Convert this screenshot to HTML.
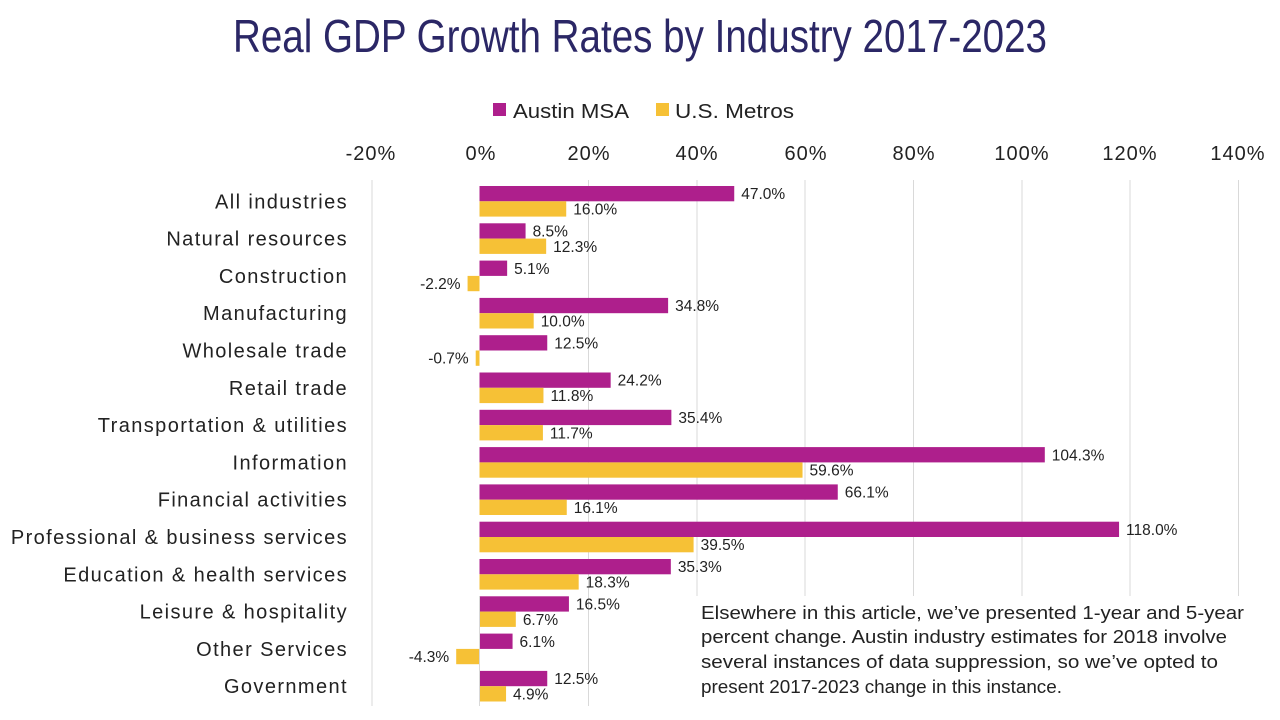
<!DOCTYPE html>
<html><head><meta charset="utf-8"><style>
html,body{margin:0;padding:0;background:#fff;}
svg{display:block;font-family:"Liberation Sans",sans-serif;}
</style></head><body>
<svg width="1280" height="720" viewBox="0 0 1280 720" xmlns="http://www.w3.org/2000/svg">
<text x="640" y="52" text-anchor="middle" font-size="46" fill="#2B2766" textLength="814" lengthAdjust="spacingAndGlyphs">Real GDP Growth Rates by Industry 2017-2023</text>
<rect x="493" y="103" width="13" height="13" fill="#AE1F8C"/>
<text x="513" y="118" font-size="20" fill="#222" textLength="116" lengthAdjust="spacingAndGlyphs">Austin MSA</text>
<rect x="656" y="103" width="13" height="13" fill="#F6C136"/>
<text x="675" y="118" font-size="20" fill="#222" textLength="119" lengthAdjust="spacingAndGlyphs">U.S. Metros</text>
<g font-size="20" fill="#222" text-anchor="middle" letter-spacing="1">
<text x="371" y="160">-20%</text><text x="481" y="160">0%</text><text x="589" y="160">20%</text><text x="697" y="160">40%</text><text x="806" y="160">60%</text><text x="914" y="160">80%</text><text x="1022" y="160">100%</text><text x="1130" y="160">120%</text><text x="1238" y="160">140%</text>
</g>
<g stroke="#d9d9d9" stroke-width="1">
<line x1="372" y1="180" x2="372" y2="706"/><line x1="588.5" y1="180" x2="588.5" y2="706"/><line x1="697" y1="180" x2="697" y2="706"/><line x1="805" y1="180" x2="805" y2="706"/><line x1="913.5" y1="180" x2="913.5" y2="706"/><line x1="1022" y1="180" x2="1022" y2="706"/><line x1="1130" y1="180" x2="1130" y2="706"/><line x1="1238.5" y1="180" x2="1238.5" y2="706"/>
</g>
<g id="bars"></g>
<g font-size="20" fill="#222" text-anchor="end" letter-spacing="1.4" id="cats"></g>
<rect x="692" y="596" width="560" height="110" fill="#fff"/>
<line x1="479.5" y1="596" x2="479.5" y2="706" stroke="#d9d9d9"/>
<g font-size="18" fill="#222">
<text x="701" y="619" textLength="543" lengthAdjust="spacingAndGlyphs">Elsewhere in this article, we’ve presented 1-year and 5-year</text>
<text x="701" y="643" textLength="526" lengthAdjust="spacingAndGlyphs">percent change. Austin industry estimates for 2018 involve</text>
<text x="701" y="668" textLength="517" lengthAdjust="spacingAndGlyphs">several instances of data suppression, so we’ve opted to</text>
<text x="701" y="693" textLength="361" lengthAdjust="spacingAndGlyphs">present 2017-2023 change in this instance.</text>
</g>
<script>
var d=[["All industries",47.0,16.0],["Natural resources",8.5,12.3],["Construction",5.1,-2.2],["Manufacturing",34.8,10.0],["Wholesale trade",12.5,-0.7],["Retail trade",24.2,11.8],["Transportation & utilities",35.4,11.7],["Information",104.3,59.6],["Financial activities",66.1,16.1],["Professional & business services",118.0,39.5],["Education & health services",35.3,18.3],["Leisure & hospitality",16.5,6.7],["Other Services",6.1,-4.3],["Government",12.5,4.9]];
var ns="http://www.w3.org/2000/svg",z=479.5,k=5.42,h=15.3,b=document.getElementById("bars"),c=document.getElementById("cats");
function el(t,a,p,txt){var e=document.createElementNS(ns,t);for(var q in a)e.setAttribute(q,a[q]);if(txt!==undefined)e.textContent=txt;p.appendChild(e);return e;}
d.forEach(function(r,i){var y0=186+37.3*i;
el("text",{x:348,y:y0+h+7},c,r[0]);
[[r[1],"#AE1F8C",y0],[r[2],"#F6C136",y0+h]].forEach(function(s){var v=s[0],w=Math.abs(v)*k,x=v>=0?z:z-w;
el("rect",{x:x,y:s[2],width:w,height:h,fill:s[1]},b);
var lx=v>=0?z+w+7:z-w-7;
el("text",{x:lx,y:s[2]+h/2+5.5,"font-size":15.5,fill:"#222","text-anchor":v>=0?"start":"end"},b,v.toFixed(1)+"%");});});
</script>
</svg>
</body></html>
